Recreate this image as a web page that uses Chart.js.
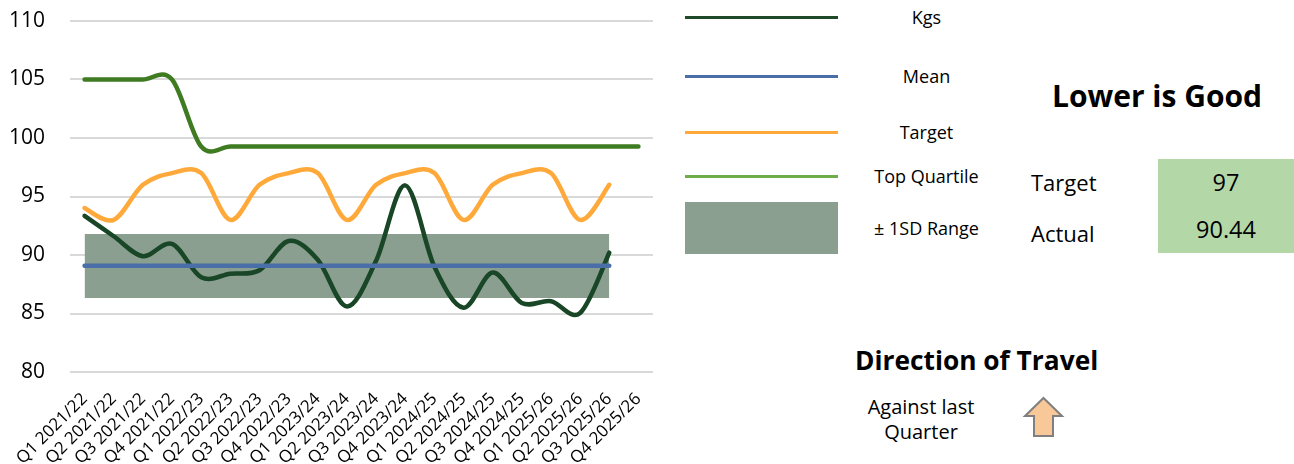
<!DOCTYPE html>
<html>
<head>
<meta charset="utf-8">
<script src="https://cdn.jsdelivr.net/npm/chart.js@4.4.1/dist/chart.umd.min.js"></script>
<style>
  html, body { margin:0; padding:0; background:#fff; width:1294px; height:464px; overflow:hidden;
    font-family:"Open Sans","Noto Sans","DejaVu Sans",sans-serif; color:#000; }
  #chartBox { position:absolute; left:0; top:0; width:660px; height:464px; }
  .legLine { position:absolute; left:685px; width:153px; height:3px; }
  .legBox { position:absolute; left:685px; width:153px; top:202px; height:52px; background:#8A9F8F; }
  .legText { position:absolute; left:849px; width:155px; text-align:center; font-size:18px; line-height:22px; margin-top:-11px; white-space:nowrap; }
  .abs { position:absolute; white-space:nowrap; }
  .title { font-weight:bold; font-size:30px; line-height:34px; margin-top:-17px; }
  .title2 { font-weight:bold; font-size:26.3px; line-height:30px; margin-top:-15px; }
  .lbl { font-size:22px; line-height:26px; margin-top:-13px; }
  .cell { position:absolute; left:1158px; width:136px; height:47px; background:#B4D7A8; font-size:23.5px; line-height:47px; text-align:center; }
  .small { font-size:20px; line-height:25px; text-align:center; }
</style>
</head>
<body>
<div id="chartBox"><canvas id="c" width="660" height="464"></canvas></div>

<!-- legend -->
<div class="legLine" style="top:15.5px;background:#1E4A29"></div>
<div class="legText" style="top:17px">Kgs</div>
<div class="legLine" style="top:74.5px;background:#4A6FA8"></div>
<div class="legText" style="top:76px">Mean</div>
<div class="legLine" style="top:130.5px;background:#FFA93B"></div>
<div class="legText" style="top:132px">Target</div>
<div class="legLine" style="top:174.5px;background:#6FAD48"></div>
<div class="legText" style="top:176px">Top Quartile</div>
<div class="legBox"></div>
<div class="legText" style="top:228px">± 1SD Range</div>

<!-- right panel -->
<div class="abs title" style="left:1052px;top:96px">Lower is Good</div>
<div class="cell" style="top:159px">97</div>
<div class="cell" style="top:206px">90.44</div>
<div class="abs lbl" style="left:1031px;top:182px">Target</div>
<div class="abs lbl" style="left:1031px;top:233px">Actual</div>
<div class="abs title2" style="left:855px;top:360px">Direction of Travel</div>
<div class="abs small" style="left:856px;top:394px;width:130px">Against last<br>Quarter</div>
<svg class="abs" style="left:1020px;top:394px" width="48" height="46" viewBox="0 0 48 46">
  <polygon points="23.5,4 42,22 33,22 33,42 14,42 14,22 5,22" fill="#F8C898" stroke="#7F7F7F" stroke-width="2" stroke-linejoin="miter"/>
</svg>

<script>
// ---- data ----
const categories = ['Q1 2021/22','Q2 2021/22','Q3 2021/22','Q4 2021/22',
  'Q1 2022/23','Q2 2022/23','Q3 2022/23','Q4 2022/23',
  'Q1 2023/24','Q2 2023/24','Q3 2023/24','Q4 2023/24',
  'Q1 2024/25','Q2 2024/25','Q3 2024/25','Q4 2024/25',
  'Q1 2025/26','Q2 2025/26','Q3 2025/26','Q4 2025/26'];
const kgs = [93.35, 91.6, 89.9, 90.95, 88.1, 88.4, 88.7, 91.2, 89.6, 85.6,
  89.5, 95.95, 89.0, 85.5, 88.5, 85.9, 86.05, 85.05, 90.2, null];
const mean = [89.08, 89.08, 89.08, 89.08, 89.08, 89.08, 89.08, 89.08, 89.08, 89.08,
  89.08, 89.08, 89.08, 89.08, 89.08, 89.08, 89.08, 89.08, 89.08, null];
const target = [94, 93, 96, 97, 97, 93, 96, 97, 97, 93,
  96, 97, 97, 93, 96, 97, 97, 93, 96, null];
const topQuartile = [105, 105, 105, 105, 99.27, 99.27, 99.27, 99.27, 99.27, 99.27,
  99.27, 99.27, 99.27, 99.27, 99.27, 99.27, 99.27, 99.27, 99.27, 99.27];
const sdLower = [86.33, 86.33, 86.33, 86.33, 86.33, 86.33, 86.33, 86.33, 86.33, 86.33,
  86.33, 86.33, 86.33, 86.33, 86.33, 86.33, 86.33, 86.33, 86.33, null];
const sdUpper = [91.79, 91.79, 91.79, 91.79, 91.79, 91.79, 91.79, 91.79, 91.79, 91.79,
  91.79, 91.79, 91.79, 91.79, 91.79, 91.79, 91.79, 91.79, 91.79, null];
const yTicks = [80, 85, 90, 95, 100, 105, 110];

const FONT = '"Open Sans","Noto Sans","DejaVu Sans",sans-serif';
const lineBase = { pointRadius:0, pointHoverRadius:0, borderWidth:4.5, tension:0.3,
  borderCapStyle:'round', borderJoinStyle:'round', fill:false, spanGaps:false };

// Excel-style smoothing (uniform Catmull-Rom) applied to the library's own point elements
const excelSmooth = {
  id:'excelSmooth',
  beforeDatasetsDraw(chart) {
    chart.data.datasets.forEach((ds, i) => {
      if (!ds.excelSmooth) return;
      const meta = chart.getDatasetMeta(i);
      const line = meta.dataset;
      if (line && typeof line.updateControlPoints === 'function') {
        line.updateControlPoints(chart.chartArea, meta.iScale.axis);
      }
      const pts = meta.data.filter(p => !p.skip);
      const n = pts.length;
      for (let k = 0; k < n; k++) {
        const p = pts[k];
        const prev = pts[Math.max(k - 1, 0)];
        const next = pts[Math.min(k + 1, n - 1)];
        const dx = (next.x - prev.x) / 6, dy = (next.y - prev.y) / 6;
        p.cp1x = p.x - dx; p.cp1y = p.y - dy;
        p.cp2x = p.x + dx; p.cp2y = p.y + dy;
      }
      if (line) { line._pointsUpdated = true; line._path = undefined; }
    });
  }
};

new Chart(document.getElementById('c'), {
  type:'line',
  data:{
    labels:categories,
    datasets:[
      Object.assign({label:'Mean', data:mean, borderColor:'#4A6FA8'}, lineBase),
      Object.assign({label:'Kgs', data:kgs, borderColor:'#184626', excelSmooth:true}, lineBase),
      Object.assign({label:'Target', data:target, borderColor:'#FFA93B', excelSmooth:true}, lineBase),
      Object.assign({label:'Top Quartile', data:topQuartile, borderColor:'#3E7B21', excelSmooth:true}, lineBase),
      Object.assign({}, lineBase, {label:'SD low', data:sdLower, borderWidth:0, tension:0, borderColor:'rgba(0,0,0,0)'}),
      Object.assign({}, lineBase, {label:'± 1SD Range', data:sdUpper, borderWidth:0, tension:0, borderColor:'rgba(0,0,0,0)', fill:'-1', backgroundColor:'#8A9F8F'})
    ]
  },
  options:{
    responsive:false,
    animation:false,
    events:[],
    layout:{ padding:{ top:21, right:7, left:0, bottom:0 } },
    plugins:{ legend:{display:false}, tooltip:{enabled:false}, title:{display:false} },
    scales:{
      x:{
        offset:true,
        grid:{ display:true, drawOnChartArea:false, drawTicks:true, tickLength:15,
          color:'rgba(0,0,0,0)', tickColor:'rgba(0,0,0,0)' },
        border:{ display:false },
        ticks:{ autoSkip:false, maxRotation:45, minRotation:45, padding:2,
          color:'#000', font:{ family:FONT, size:17 } },
        afterFit:(s)=>{ s.height = 92; }
      },
      y:{
        min:80, max:110,
        afterBuildTicks:(s)=>{ s.ticks = yTicks.map(v=>({value:v})); },
        grid:{ color:'#D9D9D9', lineWidth:2, drawTicks:true, tickLength:22, tickColor:'rgba(0,0,0,0)' },
        border:{ display:false },
        ticks:{ padding:3, color:'#000', font:{ family:FONT, size:21 } },
        afterFit:(s)=>{ s.width = 70; }
      }
    }
  },
  plugins:[excelSmooth]
});
</script>
</body>
</html>
